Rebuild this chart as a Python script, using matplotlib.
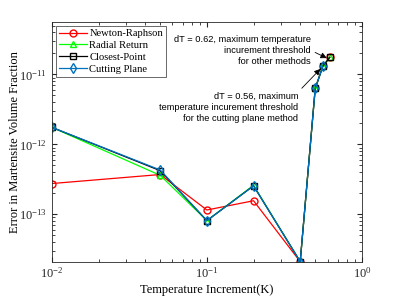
import matplotlib
matplotlib.use('Agg')
import matplotlib.pyplot as plt
from matplotlib.ticker import NullFormatter, FixedLocator, LogFormatterSciNotation

plt.rcParams['font.family'] = ['Liberation Serif', 'DejaVu Serif']
plt.rcParams['mathtext.fontset'] = 'stix'

# Daten
dT = [0.01, 0.05, 0.1, 0.2, 0.4, 0.5, 0.56, 0.62]
dT_cp = [0.01, 0.05, 0.1, 0.2, 0.4, 0.5, 0.56]

err_newton = [2.75e-13, 3.7e-13, 1.15e-13, 1.56e-13, 2.1e-14, 6.3e-12, 1.31e-11, 1.75e-11]
err_radial = [1.75e-12, 3.6e-13, 8.1e-14, 2.6e-13, 2.1e-14, 6.3e-12, 1.31e-11, 1.75e-11]
err_closest = [1.75e-12, 4.2e-13, 8.1e-14, 2.55e-13, 2.1e-14, 6.3e-12, 1.31e-11, 1.75e-11]
err_cutting = [1.75e-12, 4.3e-13, 8.1e-14, 2.55e-13, 2.1e-14, 6.3e-12, 1.31e-11]

x_ticks = [0.01, 0.1, 1]
y_ticks = [1e-13, 1e-12, 1e-11]

fig = plt.figure(figsize=(3.99, 2.99), dpi=100)
ax = fig.add_axes([0.130, 0.125, 0.777, 0.801])

ax.plot(dT, err_newton, '-o', color='red', mfc='none', ms=5, lw=0.9, label='Newton-Raphson')
ax.plot(dT, err_radial, '-^', color=(0, 1, 0), mfc='none', ms=5, lw=0.9, label='Radial Return')
ax.plot(dT, err_closest, '-s', color='black', mfc='none', ms=4.5, lw=0.9, label='Closest-Point')
ax.plot(dT_cp, err_cutting, '-d', color='#0072BD', mfc='none', ms=5, lw=0.9, label='Cutting Plane')

ax.set_xscale('log')
ax.set_yscale('log')
ax.set_xlim(0.01, 1)
ax.set_ylim(2.1e-14, 5.6e-11)

ax.xaxis.set_major_locator(FixedLocator(x_ticks))
ax.yaxis.set_major_locator(FixedLocator(y_ticks))
ax.xaxis.set_major_formatter(LogFormatterSciNotation())
ax.yaxis.set_major_formatter(LogFormatterSciNotation())
ax.xaxis.set_minor_formatter(NullFormatter())
ax.yaxis.set_minor_formatter(NullFormatter())

ax.tick_params(which='both', direction='in', top=True, right=True, labelsize=9, colors='#262626')
ax.tick_params(which='major', length=3.5)
ax.tick_params(which='minor', length=2)
for s in ax.spines.values():
    s.set_color('#262626')
    s.set_linewidth(0.6)

ax.set_xlabel('Temperature Increment(K)', fontsize=9, labelpad=2)
ax.set_ylabel('Error in Martensite Volume Fraction', fontsize=9)
ax.yaxis.set_label_coords(-0.10, 0.5)

leg = ax.legend(loc='upper left', fontsize=7.6, frameon=True, fancybox=False, edgecolor='#262626',
                handlelength=2.7, borderpad=0.3, labelspacing=0.22, handletextpad=0.2,
                borderaxespad=0.35)
leg.get_frame().set_linewidth(0.6)

# Anmerkungen
ax.annotate('dT = 0.62, maximum temperature\nincurement threshold\nfor other methods',
            xy=(0.605, 1.68e-11), xytext=(0.47, 2.2e-11),
            ha='right', va='center', fontsize=6.7, family='Liberation Sans', linespacing=1.3,
            arrowprops=dict(arrowstyle='-|>', color='black', lw=0.6, mutation_scale=9,
                            shrinkA=1, shrinkB=1, relpos=(1.0, 0.5)))
ax.annotate('dT = 0.56, maximum\ntemperature incurement threshold\nfor the cutting plane method',
            xy=(0.548, 1.24e-11), xytext=(0.388, 3.35e-12),
            ha='right', va='center', fontsize=6.7, family='Liberation Sans', linespacing=1.3,
            arrowprops=dict(arrowstyle='-|>', color='black', lw=0.6, mutation_scale=9,
                            shrinkA=1, shrinkB=1, relpos=(1.0, 1.0)))

fig.savefig('out.png', dpi=100)
